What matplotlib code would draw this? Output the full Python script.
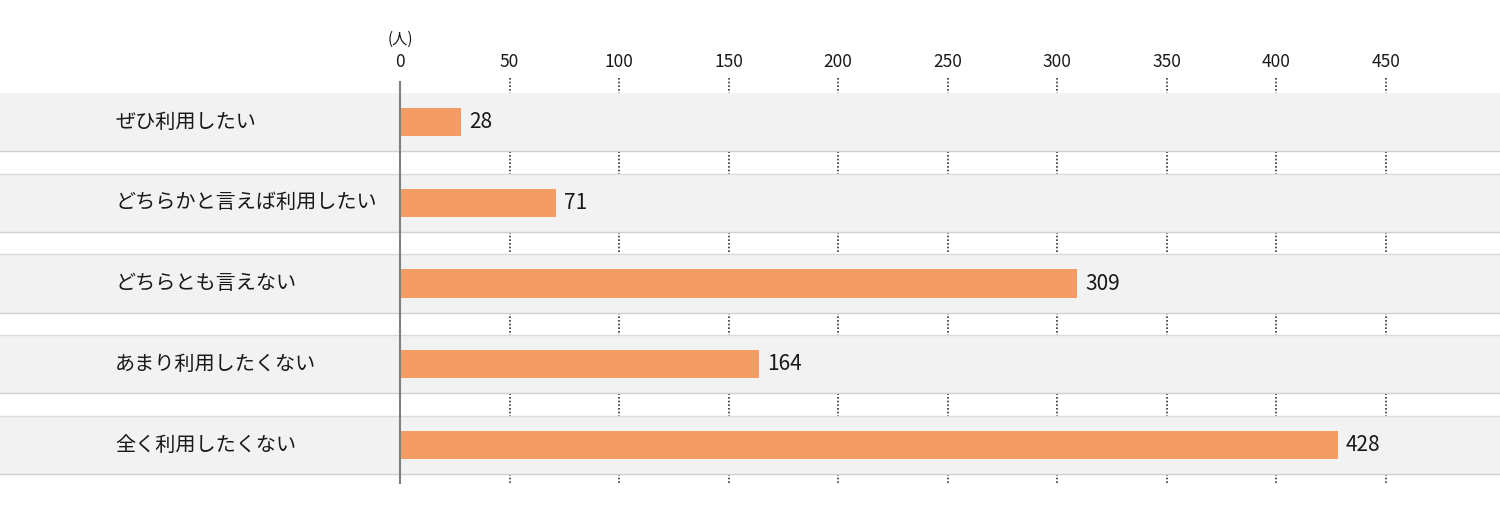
import matplotlib
matplotlib.use('Agg')
import matplotlib.pyplot as plt

plt.rcParams['font.family'] = ['Noto Sans CJK JP', 'DejaVu Sans']

# data
categories = ['ぜひ利用したい', 'どちらかと言えば利用したい', 'どちらとも言えない',
              'あまり利用したくない', '全く利用したくない']
values = [28, 71, 309, 164, 428]
ticks = [0, 50, 100, 150, 200, 250, 300, 350, 400, 450]
unit_label = '(人)'

bar_color = '#f39c64'
band_color = '#f2f2f2'
text_color = '#1a1718'

fig = plt.figure(figsize=(15, 5.09), dpi=100)
ax = fig.add_axes([0, 0, 1, 1])
ax.axis('off')

# pixel -> data mapping (0 at x=400px, 450 at x=1386px)
px = (1386 - 400) / 450
ax.set_xlim(-400 / px, (1500 - 400) / px)
pitch = 80.75
ax.set_ylim((509 - 122) / pitch, -122 / pitch)

x_left = -400 / px
x_right = (1500 - 400) / px

# dotted grid lines (covered by bands)
for t in ticks[1:]:
    ax.plot([t, t], [-0.545, 4.48], color='#333333', lw=1.2,
            linestyle=(0, (1, 1.2)), zorder=1)

# bands
for i, cat in enumerate(categories):
    ax.fill_between([x_left, x_right], i - 0.36, i + 0.36, color=band_color,
                    lw=0, zorder=2)
    if i > 0:
        ax.plot([x_left, x_right], [i - 0.36, i - 0.36], color='#dcdcdc', lw=1, zorder=2.5)
    ax.plot([x_left, x_right], [i + 0.36, i + 0.36], color='#d0d0d0', lw=1, zorder=2.5)
    ax.text(115 / px + x_left, i, cat, ha='left', va='center', fontsize=14.5,
            color=text_color, zorder=4)

ax.barh(range(len(values)), values, height=0.35, color=bar_color, zorder=3)
for i, v in enumerate(values):
    ax.text(v + 8 / px, i, str(v), ha='left', va='center', fontsize=15,
            color=text_color, zorder=4)

# vertical axis line
ax.plot([0, 0], [-0.495, 4.47], color='#7f7f7f', lw=1.5, zorder=3.5)

# tick labels
for t in ticks:
    ax.text(t, -0.743, str(t), ha='center', va='center', fontsize=12.5,
            color=text_color)
ax.text(0, -1.02, unit_label, ha='center', va='center', fontsize=11,
        color=text_color)

fig.savefig('out.png', dpi=100)
